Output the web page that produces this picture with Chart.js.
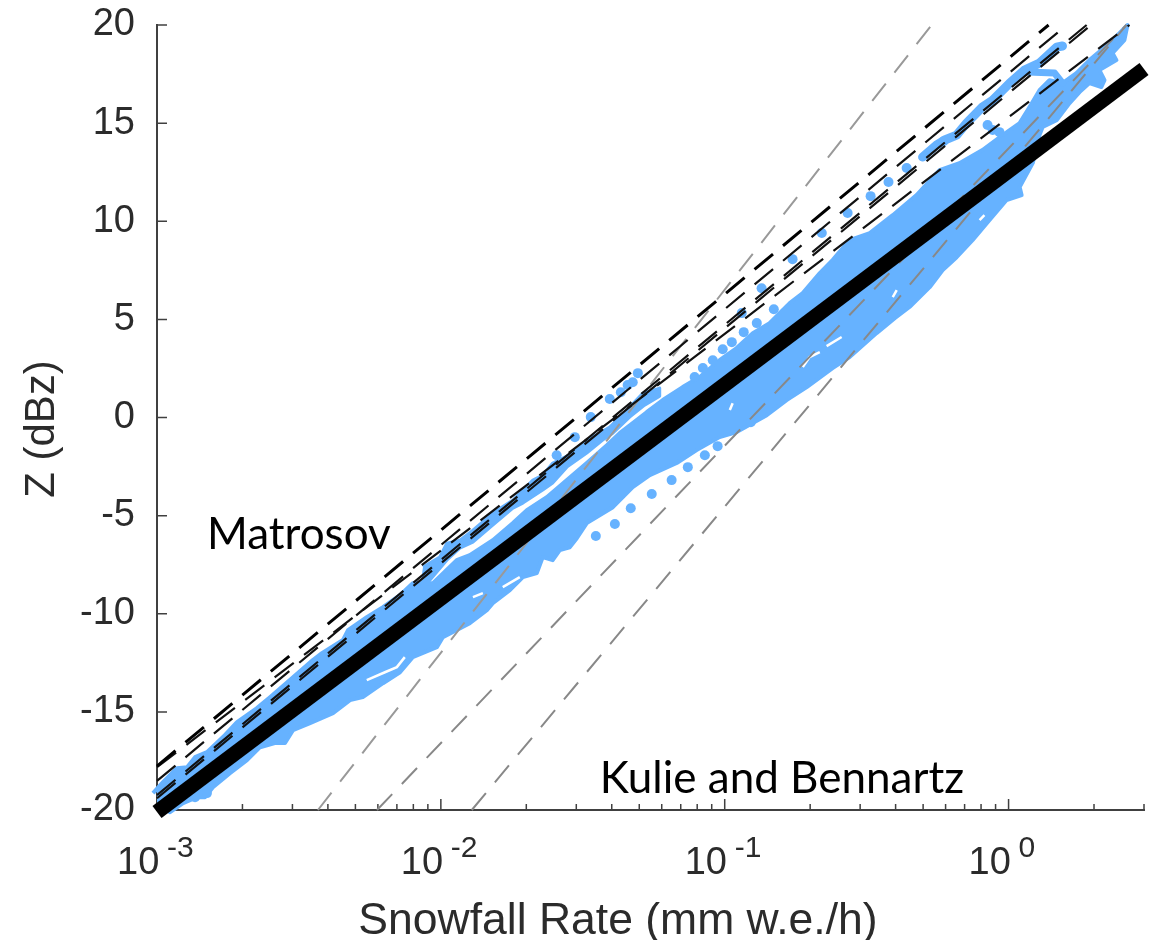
<!DOCTYPE html>
<html>
<head>
<meta charset="utf-8">
<title>Z-S relations</title>
<script src="https://cdn.jsdelivr.net/npm/chart.js@4/dist/chart.umd.min.js"></script>
<style>
  html, body { margin: 0; padding: 0; background: #fff; }
  canvas { display: block; }
</style>
</head>
<body>
<canvas id="zs-chart" width="1160" height="940"></canvas>
<script>
// axes
const xMajorTicks = [0.001, 0.01, 0.1, 1];
const xExponents  = ['-3', '-2', '-1', '0'];
const xMinorTicks = [0.002, 0.003, 0.004, 0.005, 0.006, 0.007, 0.008, 0.009,
                     0.02, 0.03, 0.04, 0.05, 0.06, 0.07, 0.08, 0.09,
                     0.2, 0.3, 0.4, 0.5, 0.6, 0.7, 0.8, 0.9, 2, 3];
const yTicks = [-20, -15, -10, -5, 0, 5, 10, 15, 20];

// fitted relation (thick black)
const fitRate = [0.001, 3];
const fitZ    = [-20.1, 17.76];

// Matrosov relations, log10 of rate at both ends (black dashed)
const matrosovLogRate = [[-3, 0.141], [-3, 0.205], [-3, 0.275], [-3, 0.291], [-3, 0.426]];
const matrosovZ       = [[-17.76, 20], [-18.52, 20], [-19.24, 20], [-19.40, 20], [-17.82, 20]];

// Kulie and Bennartz relations (gray dashed)
const kulieLogRate = [[-2.433, -0.271], [-2.225, 0.415], [-1.891, 0.415]];
const kulieZ       = [[-20, 20], [-20, 20], [-20, 20]];

// outline of the dense cloud of blue points
const cloudLogRate = [-3.014, -2.979, -2.93, -2.894, -2.866, -2.824, -2.761, -2.718, -2.648, -2.602,
  -2.532, -2.451, -2.419, -2.345, -2.327, -2.261, -2.204, -2.144, -2.099, -2.028,
  -1.944, -1.898, -1.817, -1.746, -1.697, -1.627, -1.556, -1.486, -1.415, -1.37,
  -1.324, -1.275, -1.218, -1.148, -1.088, -1.018, -0.958, -0.901, -0.842, -0.771,
  -0.725, -0.665, -0.62, -0.56, -0.489, -0.408, -0.324, -0.243, -0.173, -0.092,
  -0.021, 0.039, 0.074, 0.109, 0.144, 0.19, 0.239, 0.285, 0.356, 0.401, 0.419,
  0.408, 0.366, 0.38, 0.32, 0.338, 0.327, 0.285, 0.25, 0.215, 0.169, 0.12, 0.109,
  0.085, 0.039, 0.046, -0.007, -0.067, -0.127, -0.183, -0.232, -0.278, -0.349,
  -0.401, -0.465, -0.56, -0.62, -0.711, -0.782, -0.852, -0.958, -1.018, -1.099,
  -1.169, -1.264, -1.324, -1.394, -1.486, -1.521, -1.546, -1.581, -1.606, -1.641,
  -1.662, -1.711, -1.757, -1.817, -1.838, -1.898, -1.993, -2.014, -2.099, -2.144,
  -2.204, -2.275, -2.32, -2.38, -2.461, -2.521, -2.549, -2.585, -2.637, -2.683,
  -2.743, -2.803, -2.831, -2.859, -2.908, -2.954, -3];
const cloudZ = [-19.14, -18.58, -17.87, -17.82, -17.31, -17.05, -16.19, -15.52, -14.81, -14.25,
  -13.38, -12.36, -12.01, -11.34, -10.83, -10.17, -9.66, -9.05, -8.44, -8.44,
  -7.27, -7.01, -6.25, -5.38, -4.72, -4.06, -3.19, -2.32, -1.41, -0.8,
  -0.29, 0.27, 0.89, 1.55, 2.06, 2.92, 3.54, 4.3, 4.81, 5.83,
  6.34, 7.36, 8.02, 9.04, 9.4, 10.31, 11.33, 12.61, 12.96, 13.63,
  14.39, 15, 15.82, 16.68, 17.19, 17.04, 17.55, 18.21, 19.08, 19.74, 20,
  19.23, 18.57, 18.21, 17.7, 17.19, 16.84, 17.04, 16.58, 16.02, 15.15, 14.8, 14.39,
  12.96, 11.74, 11.33, 11.08, 10.06, 9.04, 8.17, 7.51, 6.64, 5.63,
  5.06, 4.3, 3.08, 2.52, 1.55, 0.89, 0.12, -0.74, -1, -1.66,
  -2.32, -2.94, -3.55, -4.57, -5.38, -6.15, -6.61, -6.76, -7.27, -7.11,
  -7.93, -8.13, -8.8, -9.46, -9.82, -10.48, -11.19, -11.7, -12.21, -12.98,
  -13.54, -14.25, -14.4, -15.06, -15.57, -15.93, -16.59, -16.59, -16.8, -17.46,
  -18.12, -18.84, -19.35, -19.35, -19.65, -20.11, -19.75];

// upper sliver of blue points, separated from the main cloud by a white gap
const sliverLogRate = [-2.063, -2.004, -1.979, -1.933, -1.887, -1.817, -1.746, -1.676, -1.641, -1.606,
  -1.535, -1.465, -1.405, -1.335, -1.289, -1.229, -1.229, -1.282, -1.335, -1.394,
  -1.43, -1.486, -1.556, -1.606, -1.641, -1.711, -1.746, -1.817, -1.887, -1.933,
  -1.979, -2.039, -2.074];
const sliverZ = [-7.62, -7.11, -6.4, -6.25, -5.74, -4.87, -4.21, -3.19, -2.94, -2.32,
  -1.81, -1, -0.49, 0.53, 1.24, 1.5, 1.09, 0.63, 0.02, -0.8,
  -1.15, -1.81, -2.53, -3.34, -3.7, -4.36, -4.62, -5.48, -6.35, -6.66,
  -7.27, -8.29, -8.8];

// chain of blue points near the top right
const armLogRate = [-0.303, -0.254, -0.225, -0.183, -0.148, -0.092, -0.056, 0.004, 0.056, 0.109, 0.169, 0.19];
const armZ       = [13.27, 13.88, 14.14, 14.39, 15, 15.82, 16.17, 17.04, 17.7, 18.06, 18.87, 18.93];
const hookLogRate = [0.067, 0.162, 0.19];
const hookZ       = [17.6, 17.55, 17.04];

// isolated blue points
const dotLogRate = [-0.567, -0.658, -0.761, -0.87, -0.94, -0.887, -0.827, -0.933, -0.975, -1.007,
  -1.042, -1.077, -1.106, -1.306, -1.324, -1.342, -1.366, -1.405, -1.472, -1.528,
  -1.592, -0.486, -0.423, -0.359, -0.229, -1.331, -1.257, -1.187, -1.13, -1.07,
  -1.025, -0.908, -1.387, -1.454, -2.824, -2.866, -0.074, -0.056, -0.032];
const dotZ = [10.42, 9.4, 8.07, 6.59, 5.32, 4.81, 5.52, 4.35, 3.84, 3.48,
  2.92, 2.52, 2.06, 2.26, 1.8, 1.65, 1.29, 0.94, 0.02, -1,
  -1.92, 11.28, 12, 12.71, 14.08, -4.62, -3.9, -3.19, -2.53, -1.92,
  -1.46, -0.24, -5.43, -6.04, -19.14, -19.35, 14.9, 14.65, 14.54];

// small holes in the cloud, null breaks the line
const holeLogRate = [-2.261, -2.197, -2.155, -2.127, null, -0.641, -0.588, null, -0.725, -0.701, -0.665, null,
  -0.972, -0.982, null, -1.887, -1.852, null, -1.782, -1.722, null, -0.102, -0.085, null, -0.408, -0.394];
const holeZ = [-13.38, -12.98, -12.72, -12.21, null, 3.64, 4.1, null, 2.57, 3.08, 3.33, null,
  0.73, 0.38, null, -9.15, -8.95, null, -8.64, -8.13, null, 10.06, 10.31, null, 6.13, 6.49];

// labels written on the plot
const noteTexts = ['Matrosov', 'Kulie and Bennartz'];
const noteRate  = [0.0015, 0.0363];
const noteZ     = [-6.7, -19.13];

const BLUE = '#66b2ff';
const INK  = '#2b2b2b';
const AXIS = '#404040';

// log10 rate + Z arrays to chart points
function points(logRate, z) {
  return logRate.map((v, i) => ({ x: v === null ? 1 : Math.pow(10, v), y: z[i] }));
}

function dashed(logRate, z, color, width, dash) {
  return {
    type: 'scatter', showLine: true, data: points(logRate, z), borderColor: color, borderWidth: width,
    borderDash: dash, pointRadius: 0, clip: false
  };
}

// first dataset is drawn on top
const datasets = [
  {
    type: 'scatter', showLine: true,
    data: fitRate.map((r, i) => ({ x: r, y: fitZ[i] })),
    borderColor: '#000', borderWidth: 15, pointRadius: 0, clip: false
  },
  dashed(matrosovLogRate[0], matrosovZ[0], '#000', 3, [24, 13]),
  dashed(matrosovLogRate[1], matrosovZ[1], '#111', 2.2, [24, 13]),
  dashed(matrosovLogRate[2], matrosovZ[2], '#111', 2.2, [24, 13]),
  dashed(matrosovLogRate[3], matrosovZ[3], '#111', 2.2, [24, 13]),
  dashed(matrosovLogRate[4], matrosovZ[4], '#111', 2.2, [24, 13]),
  dashed(kulieLogRate[0], kulieZ[0], '#999', 2, [22, 14]),
  dashed(kulieLogRate[1], kulieZ[1], '#888', 2, [22, 14]),
  dashed(kulieLogRate[2], kulieZ[2], '#888', 2, [22, 14]),
  {
    type: 'scatter', showLine: true, data: points(holeLogRate, holeZ),
    borderColor: '#fff', borderWidth: 2.5, pointRadius: 0, spanGaps: false, clip: false
  },
  {
    type: 'scatter', data: points(dotLogRate, dotZ),
    backgroundColor: BLUE, borderWidth: 0, pointRadius: 5, clip: false
  },
  {
    type: 'scatter', showLine: true, data: points(armLogRate, armZ),
    borderColor: BLUE, borderWidth: 9, borderCapStyle: 'round', borderJoinStyle: 'round', pointRadius: 0, clip: false
  },
  {
    type: 'scatter', showLine: true, data: points(hookLogRate, hookZ),
    borderColor: BLUE, borderWidth: 7, borderCapStyle: 'round', borderJoinStyle: 'round', pointRadius: 0, clip: false
  },
  {
    type: 'scatter', showLine: true, data: points(sliverLogRate, sliverZ), fill: 'shape',
    backgroundColor: BLUE, borderColor: BLUE, borderWidth: 3, borderJoinStyle: 'round', pointRadius: 0, clip: false
  },
  {
    type: 'scatter', showLine: true, data: points(cloudLogRate, cloudZ), fill: 'shape',
    backgroundColor: BLUE, borderColor: BLUE, borderWidth: 4, borderJoinStyle: 'round', pointRadius: 0, clip: false
  }
];

// inward ticks, the x labels with exponents, axis titles and notes
const axisDecor = {
  id: 'axisDecor',
  beforeDatasetsDraw(chart) {
    const { ctx, scales: { x, y }, chartArea: area } = chart;
    ctx.save();
    ctx.strokeStyle = AXIS;
    ctx.lineWidth = 1.5;
    ctx.beginPath();
    yTicks.forEach(v => {
      const py = y.getPixelForValue(v);
      ctx.moveTo(area.left, py);
      ctx.lineTo(area.left + 10, py);
    });
    xMajorTicks.forEach(v => {
      const px = x.getPixelForValue(v);
      ctx.moveTo(px, area.bottom);
      ctx.lineTo(px, area.bottom - 11);
    });
    xMinorTicks.forEach(v => {
      const px = x.getPixelForValue(v);
      ctx.moveTo(px, area.bottom);
      ctx.lineTo(px, area.bottom - 6);
    });
    ctx.stroke();
    ctx.restore();
  },
  afterDraw(chart) {
    const { ctx, scales: { x, y }, chartArea: area } = chart;
    ctx.save();
    ctx.fillStyle = INK;
    ctx.textBaseline = 'alphabetic';
    ctx.textAlign = 'left';
    xMajorTicks.forEach((v, i) => {
      const px = x.getPixelForValue(v);
      ctx.font = '38px "Liberation Sans"';
      ctx.fillText('10', px - 40, area.bottom + 64);
      ctx.font = '30px "Liberation Sans"';
      ctx.fillText(xExponents[i], px + 10, area.bottom + 47);
    });

    ctx.font = '44.5px "Liberation Sans"';
    ctx.textAlign = 'center';
    ctx.fillText('Snowfall Rate (mm w.e./h)', 618, 934);

    ctx.save();
    ctx.translate(54, 429);
    ctx.rotate(-Math.PI / 2);
    ctx.font = '42px "Liberation Sans"';
    ctx.fillText('Z (dBz)', 0, 0);
    ctx.restore();

    ctx.fillStyle = '#000';
    ctx.textAlign = 'left';
    ctx.font = '44px Lato';
    noteTexts.forEach((t, i) => {
      ctx.fillText(t, x.getPixelForValue(noteRate[i]), y.getPixelForValue(noteZ[i]));
    });
    ctx.restore();
  }
};

new Chart(document.getElementById('zs-chart').getContext('2d'), {
  type: 'scatter',
  data: { datasets },
  plugins: [axisDecor],
  options: {
    responsive: false,
    animation: false,
    layout: { padding: { top: 25, right: 16, left: 0, bottom: 0 } },
    plugins: { legend: { display: false }, tooltip: { enabled: false } },
    scales: {
      x: {
        type: 'logarithmic',
        min: 0.001,
        max: 3,
        grid: { display: false },
        border: { display: true, color: AXIS, width: 2 },
        ticks: { display: false },
        afterFit: scale => { scale.height = 130; }
      },
      y: {
        min: -20,
        max: 20,
        grid: { display: false, drawTicks: false },
        border: { display: true, color: AXIS, width: 2 },
        afterBuildTicks: scale => { scale.ticks = yTicks.map(v => ({ value: v })); },
        ticks: { color: INK, padding: 22, font: { family: 'Liberation Sans', size: 38 } },
        afterFit: scale => {
          scale.width = 157;
          scale.paddingTop = 0;
          scale.paddingBottom = 0;
        }
      }
    }
  }
});
</script>
</body>
</html>
